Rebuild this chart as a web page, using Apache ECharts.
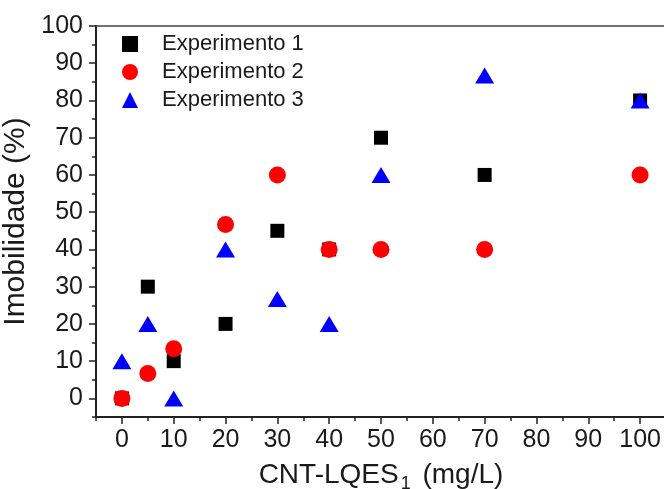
<!DOCTYPE html>
<html>
<head>
<meta charset="utf-8">
<script src="https://cdn.jsdelivr.net/npm/echarts@6/dist/echarts.min.js"></script>
<style>
  html, body { margin: 0; padding: 0; background: #fff; }
  #chart { width: 664px; height: 489px; }
</style>
</head>
<body>
<div id="chart"></div>
<script>
// dados (concentração em mg/L x imobilidade %)
const concentracoes = [0, 5, 10, 20, 30, 40, 50, 70, 100]
const experimento1 = [0, 30, 10, 20, 45, 40, 70, 60, 80]
const experimento2 = [0, 6.7, 13.3, 46.7, 60, 40, 40, 40, 60]
const experimento3 = [10, 20, 0, 40, 26.7, 20, 60, 86.7, 80]
const xTicks = [0, 10, 20, 30, 40, 50, 60, 70, 80, 90, 100]
const xMinor = [-5, 5, 15, 25, 35, 45, 55, 65, 75, 85, 95, 105]
const yTicks = [0, 10, 20, 30, 40, 50, 60, 70, 80, 90, 100]
const yMinor = [-5, 5, 15, 25, 35, 45, 55, 65, 75, 85, 95]

const fonte = 'Liberation Sans, Arial, sans-serif'
const corTexto = '#1a1a1a'

const pares = (ys) => concentracoes.map((x, i) => [x, ys[i]])

const chart = echarts.init(document.getElementById('chart'))

const option = {
  animation: false,
  grid: { left: 96, top: 26, right: -2, bottom: 72, outerBoundsMode: 'none', containLabel: false },
  legend: {
    orient: 'vertical',
    left: 122,
    top: 33,
    itemGap: 6,
    itemWidth: 16,
    itemHeight: 16,
    padding: 0,
    textStyle: { fontFamily: fonte, fontSize: 22, lineHeight: 22, color: corTexto, padding: [0, 0, 0, 19] },
    data: ['Experimento 1', 'Experimento 2', 'Experimento 3']
  },
  xAxis: [
    {
      type: 'value', position: 'bottom', min: -5, max: 105,
      splitLine: { show: false },
      axisLine: { onZero: false, lineStyle: { color: '#222', width: 2 } },
      axisTick: { customValues: xTicks, length: 7, lineStyle: { color: '#222', width: 1.5 } },
      axisLabel: { customValues: xTicks, fontFamily: fonte, fontSize: 25, color: corTexto, margin: 11 },
      name: 'CNT-LQES{sub|1} (mg/L)',
      nameLocation: 'middle',
      nameGap: 40,
      nameTextStyle: {
        fontFamily: fonte, fontSize: 28, color: corTexto,
        rich: { sub: { fontFamily: fonte, fontSize: 18, color: corTexto, padding: [18, 4, 0, 2] } }
      }
    },
    {
      type: 'value', position: 'bottom', min: -5, max: 105,
      splitLine: { show: false },
      axisLine: { show: false, onZero: false },
      axisTick: { customValues: xMinor, length: 4, lineStyle: { color: '#222', width: 1.5 } },
      axisLabel: { show: false }
    },
    {
      type: 'value', position: 'top', min: -5, max: 105,
      splitLine: { show: false },
      axisLine: { onZero: false, lineStyle: { color: '#444', width: 1.5 } },
      axisTick: { show: false },
      axisLabel: { show: false }
    }
  ],
  yAxis: [
    {
      type: 'value', position: 'left', min: -5, max: 100,
      splitLine: { show: false },
      axisLine: { show: true, onZero: false, lineStyle: { color: '#222', width: 2 } },
      axisTick: { show: true, customValues: yTicks, length: 7, lineStyle: { color: '#222', width: 1.5 } },
      axisLabel: { customValues: yTicks, fontFamily: fonte, fontSize: 25, color: corTexto, margin: 13 },
      name: 'Imobilidade (%)',
      nameLocation: 'middle',
      nameGap: 55,
      nameTextStyle: { fontFamily: fonte, fontSize: 30, color: corTexto }
    },
    {
      type: 'value', position: 'left', min: -5, max: 100,
      splitLine: { show: false },
      axisLine: { show: false, onZero: false },
      axisTick: { show: true, customValues: yMinor, length: 4, lineStyle: { color: '#222', width: 1.5 } },
      axisLabel: { show: false }
    }
  ],
  series: [
    {
      name: 'Experimento 1', type: 'scatter', symbol: 'rect', symbolSize: 14,
      itemStyle: { color: '#000000', opacity: 1 },
      data: pares(experimento1)
    },
    {
      name: 'Experimento 2', type: 'scatter', symbol: 'circle', symbolSize: 17,
      itemStyle: { color: '#ff0000', opacity: 1 },
      data: pares(experimento2)
    },
    {
      name: 'Experimento 3', type: 'scatter', symbol: 'triangle', symbolSize: [19, 16],
      itemStyle: { color: '#0000ff', opacity: 1 },
      data: pares(experimento3)
    }
  ]
}

chart.setOption(option)
window.addEventListener('resize', () => chart.resize())
</script>
</body>
</html>
